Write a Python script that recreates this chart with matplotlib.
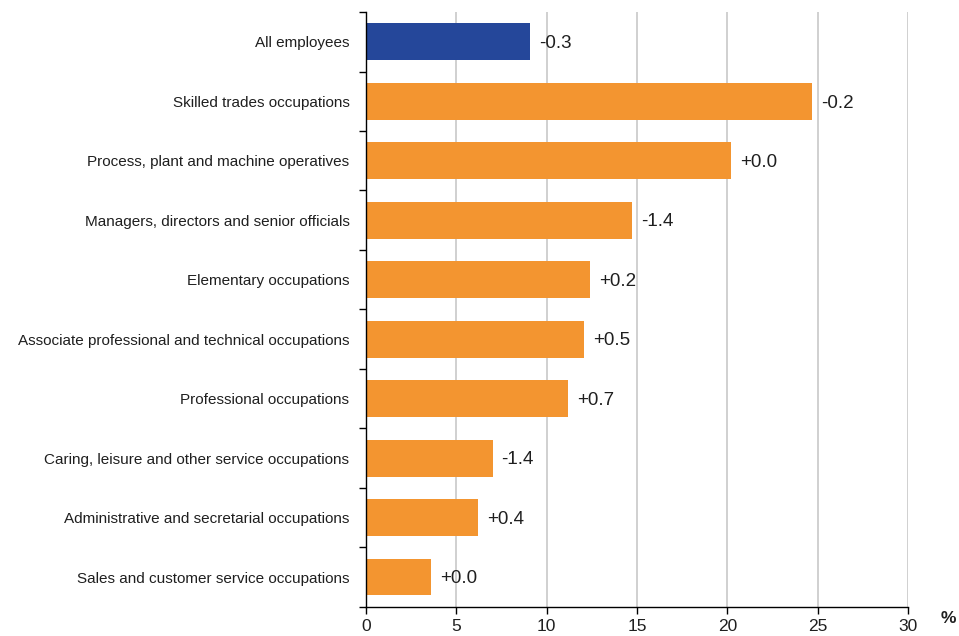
import matplotlib
matplotlib.use("Agg")
import matplotlib.pyplot as plt
import numpy as np

plt.rcParams['font.family'] = ['Liberation Sans', 'DejaVu Sans']

categories = [
    "All employees",
    "Skilled trades occupations",
    "Process, plant and machine operatives",
    "Managers, directors and senior officials",
    "Elementary occupations",
    "Associate professional and technical occupations",
    "Professional occupations",
    "Caring, leisure and other service occupations",
    "Administrative and secretarial occupations",
    "Sales and customer service occupations",
]
values = [9.1, 24.7, 20.2, 14.7, 12.4, 12.05, 11.2, 7.0, 6.2, 3.6]
changes = ["-0.3", "-0.2", "+0.0", "-1.4", "+0.2", "+0.5", "+0.7", "-1.4", "+0.4", "+0.0"]
x_ticks = [0, 5, 10, 15, 20, 25, 30]

orange = "#F39530"
blue = "#25479A"
text_col = "#1f1f1f"

fig = plt.figure(figsize=(9.59, 6.36), dpi=100)
ax = fig.add_axes([0.3817, 0.046, 0.5651, 0.935])

y = np.arange(len(categories))
colors = [blue] + [orange] * (len(categories) - 1)
ax.barh(y, values, height=0.62, color=colors, zorder=3)

for yi, v, lab in zip(y, values, changes):
    ax.text(v + 0.5, yi + 0.03, lab, va="center", ha="left", fontsize=13.5, color=text_col)

ax.set_ylim(len(categories) - 0.5, -0.5)
ax.set_xlim(0, 30)
ax.set_xticks(x_ticks)
ax.set_xticklabels([str(t) for t in x_ticks], fontsize=12.5, color=text_col)

# category labels between boundary ticks
ax.set_yticks(y)
ax.set_yticklabels(categories, fontsize=11, color=text_col)
ax.tick_params(axis="y", which="major", length=0, pad=12)
ax.set_yticks(np.arange(-0.5, len(categories), 1.0), minor=True)
ax.tick_params(axis="y", which="minor", length=5, width=1, color="black")
ax.tick_params(axis="x", which="major", length=5, width=1, color="black", pad=3.5)

ax.grid(axis="x", color="#c8c8c8", linewidth=1.2, zorder=0)
for s in ["top", "right"]:
    ax.spines[s].set_visible(False)
for s in ["left", "bottom"]:
    ax.spines[s].set_color("black")
    ax.spines[s].set_linewidth(1)
    ax.spines[s].set_zorder(4)

fig.text(0.9885, 0.027, "%", fontsize=12.5, fontweight="bold", color=text_col,
         ha="center", va="center")

fig.savefig("out.png", dpi=100)
